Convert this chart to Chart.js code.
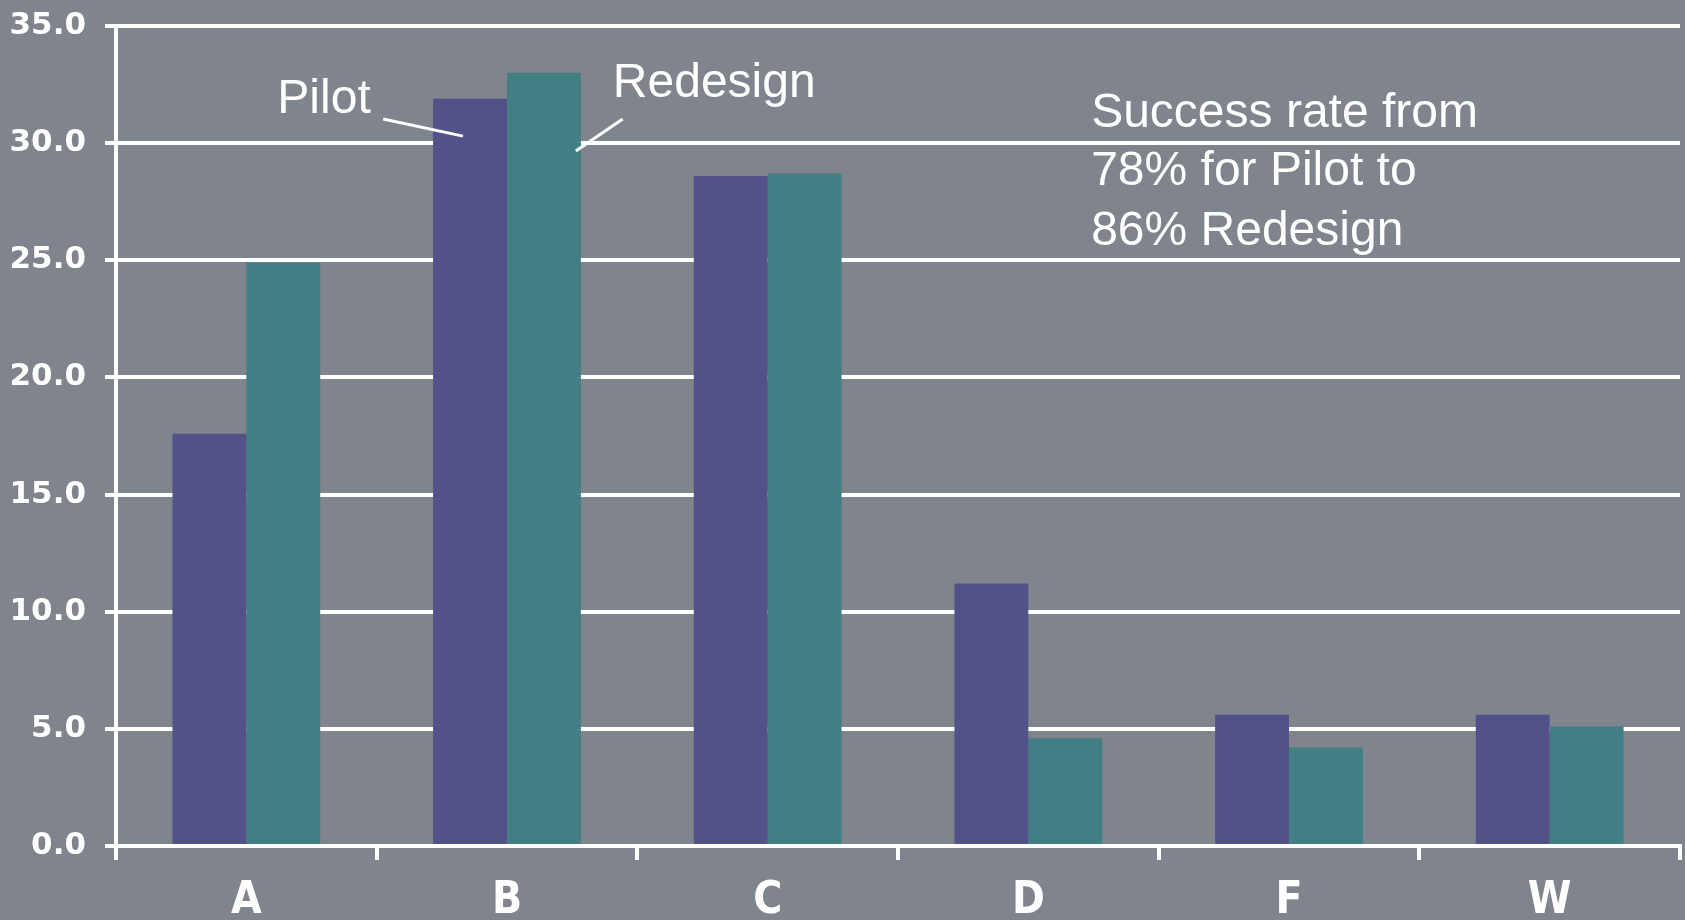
<!DOCTYPE html>
<html>
<head>
<meta charset="utf-8">
<script src="https://cdn.jsdelivr.net/npm/chart.js@4.4.0/dist/chart.umd.min.js"></script>
<style>
  html, body { margin: 0; padding: 0; background: #80848d; }
  #wrap { width: 1685px; height: 920px; position: relative; }
</style>
</head>
<body>
<div id="wrap"><canvas id="chart-success"></canvas></div>
<script>
// ── Data ────────────────────────────────────────────────────────────────────
const categories = ['A', 'B', 'C', 'D', 'F', 'W'];
const pilotValues = [17.6, 31.9, 28.6, 11.2, 5.6, 5.6];
const redesignValues = [24.9, 33.0, 28.7, 4.6, 4.2, 5.1];
const yTicks = [0, 5, 10, 15, 20, 25, 30, 35];

const BG = '#80848d';
const PILOT_COLOR = '#52528a';
const REDESIGN_COLOR = '#427f84';
const TEXT_FONT = "'Liberation Sans', Arial, sans-serif";

// Callouts, positioned in data units (x = category index, y = value)
const labels = [
  { text: 'Pilot', x: 0.119, y: 31.3 },
  { text: 'Redesign', x: 1.406, y: 31.98 },
  { text: 'Success rate from', x: 3.241, y: 30.7 },
  { text: '78% for Pilot to', x: 3.241, y: 28.21 },
  { text: '86% Redesign', x: 3.241, y: 25.65 },
];
const leaders = [
  { from: [0.525, 31.03], to: [0.831, 30.3] },
  { from: [1.444, 31.03], to: [1.264, 29.66] },
];

// ── Plugins ─────────────────────────────────────────────────────────────────
const background = {
  id: 'background',
  beforeDraw(chart) {
    const { ctx, width, height } = chart;
    ctx.save();
    ctx.fillStyle = BG;
    ctx.fillRect(0, 0, width, height);
    ctx.restore();
  },
};

const callouts = {
  id: 'callouts',
  afterDatasetsDraw(chart) {
    const { ctx, scales: { x, y } } = chart;
    const x0 = x.getPixelForValue(0);
    const step = x.getPixelForValue(1) - x0;
    const px = (i) => x0 + i * step;

    ctx.save();
    ctx.fillStyle = '#ffffff';
    ctx.font = `48px ${TEXT_FONT}`;
    ctx.textAlign = 'left';
    ctx.textBaseline = 'alphabetic';
    labels.forEach(l => ctx.fillText(l.text, px(l.x), y.getPixelForValue(l.y)));

    ctx.strokeStyle = '#ffffff';
    ctx.lineWidth = 3;
    leaders.forEach(l => {
      ctx.beginPath();
      ctx.moveTo(px(l.from[0]), y.getPixelForValue(l.from[1]));
      ctx.lineTo(px(l.to[0]), y.getPixelForValue(l.to[1]));
      ctx.stroke();
    });
    ctx.restore();
  },
};

// ── Chart ───────────────────────────────────────────────────────────────────
new Chart(document.getElementById('chart-success'), {
  type: 'bar',
  data: {
    labels: categories,
    datasets: [
      { label: 'Pilot', data: pilotValues, backgroundColor: PILOT_COLOR, borderWidth: 0 },
      { label: 'Redesign', data: redesignValues, backgroundColor: REDESIGN_COLOR, borderWidth: 0 },
    ],
  },
  options: {
    responsive: true,
    maintainAspectRatio: false,
    animation: false,
    categoryPercentage: 0.567,
    barPercentage: 1.0,
    layout: { padding: { top: 26, right: 5, left: 0, bottom: 0 } },
    plugins: {
      legend: { display: false },
      tooltip: { enabled: false },
    },
    scales: {
      x: {
        grid: {
          offset: true,
          drawOnChartArea: false,
          drawTicks: true,
          tickLength: 14,
          color: '#ffffff',
          lineWidth: 4,
        },
        border: { display: true, color: '#ffffff', width: 4 },
        ticks: {
          color: '#ffffff',
          padding: 20,
          font: { family: "'Liberation Sans Narrow', 'DejaVu Sans Condensed', 'Liberation Sans', sans-serif", size: 44, weight: 'bold', lineHeight: 1.0 },
        },
        afterFit(scale) {
          scale.height = 74;
          scale.paddingLeft = 0;
          scale.paddingRight = 0;
        },
      },
      y: {
        min: 0,
        max: 35,
        afterBuildTicks(scale) { scale.ticks = yTicks.map(v => ({ value: v })); },
        grid: {
          color: '#ffffff',
          lineWidth: 4,
          drawTicks: true,
          tickLength: 11,
        },
        border: { display: true, color: '#ffffff', width: 4 },
        ticks: {
          color: '#ffffff',
          padding: 19,
          font: { family: "'DejaVu Sans', sans-serif", size: 31, weight: 'bold' },
          callback: (v) => Number(v).toFixed(1),
        },
        afterFit(scale) {
          scale.width = 116;
          scale.paddingTop = 0;
          scale.paddingBottom = 0;
        },
      },
    },
  },
  plugins: [background, callouts],
});
</script>
</body>
</html>
